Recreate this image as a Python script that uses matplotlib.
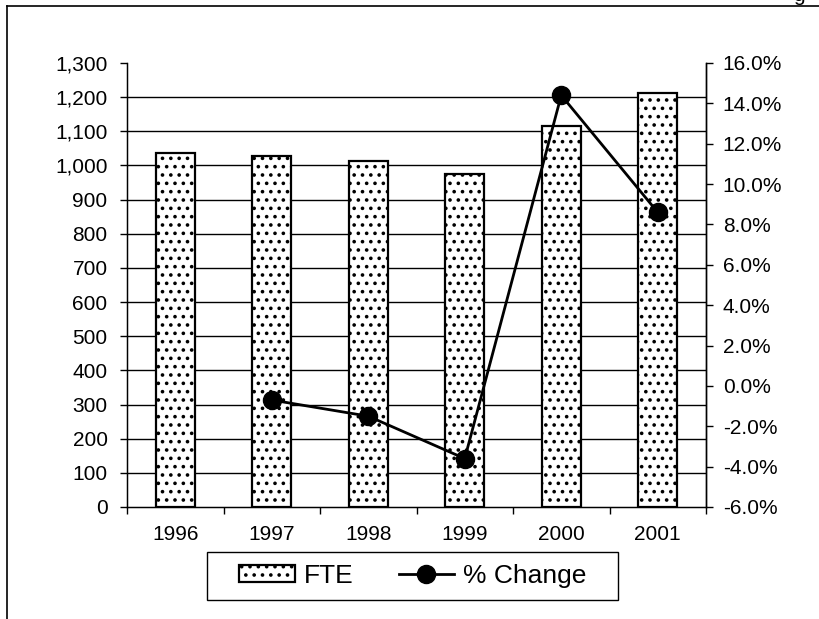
import matplotlib
matplotlib.use('Agg')
import matplotlib.pyplot as plt
from matplotlib.lines import Line2D
from matplotlib.patches import Rectangle
from matplotlib.ticker import FuncFormatter, MultipleLocator, FixedLocator
import numpy as np

plt.rcParams['font.family'] = ['Liberation Sans', 'DejaVu Sans']
plt.rcParams['hatch.linewidth'] = 1.4

years = ['1996', '1997', '1998', '1999', '2000', '2001']
fte = [1036, 1028, 1013, 976, 1117, 1213]
pct_years = ['1997', '1998', '1999', '2000', '2001']
pct_change = [-0.7, -1.5, -3.6, 14.4, 8.6]

W, H = 819, 619
fig = plt.figure(figsize=(W / 100, H / 100), dpi=100)

# outer chart frame (cut off on right/bottom)
fig.add_artist(Line2D([7 / W, 7 / W], [0, 1 - 6 / H], color='black', lw=1.2))
fig.add_artist(Line2D([7 / W, 1], [1 - 6 / H, 1 - 6 / H], color='black', lw=1.2))
fig.text(805 / W, 1 - 1 / H, 'g', fontsize=15, ha='right', va='baseline')

ax = fig.add_axes([127 / W, (H - 507) / H, (706 - 127) / W, (507 - 63) / H])
x = np.arange(len(years))
bars = ax.bar(x, fte, width=0.4, color='white', edgecolor='black',
              linewidth=1.6, hatch='..', zorder=2, label='FTE')

ax.set_xlim(-0.5, len(years) - 0.5)
ax.set_ylim(0, 1300)
ax.yaxis.set_major_locator(MultipleLocator(100))
ax.yaxis.set_major_formatter(FuncFormatter(lambda v, p: f'{int(v):,}'))
ax.set_xticks(x)
ax.set_xticklabels(years)
ax.xaxis.set_minor_locator(FixedLocator(np.arange(-0.5, len(years), 1.0)))
ax.tick_params(axis='x', which='major', length=0, pad=13, labelsize=15)
ax.tick_params(axis='x', which='minor', length=5, width=1, direction='out')
ax.tick_params(axis='y', length=5, width=1, direction='out', pad=9, labelsize=15)

for v in range(100, 1300, 100):
    ax.axhline(v, color='black', lw=1, zorder=1)
ax.set_axisbelow(True)

ax.spines['top'].set_visible(False)
for s in ['left', 'right', 'bottom']:
    ax.spines[s].set_linewidth(1)

ax2 = ax.twinx()
px = [years.index(y) for y in pct_years]
line, = ax2.plot(px, pct_change, color='black', lw=2, marker='o',
                 markersize=13, label='% Change', zorder=3)
ax2.set_ylim(-6, 16)
ax2.yaxis.set_major_locator(MultipleLocator(2))
ax2.yaxis.set_major_formatter(FuncFormatter(lambda v, p: f'{v:.1f}%'))
ax2.tick_params(axis='y', length=5, width=1, direction='out', pad=7, labelsize=15)
ax2.spines['top'].set_visible(False)
ax2.spines['right'].set_linewidth(1)

# legend box drawn separately (wider horizontal padding than vertical)
fig.add_artist(Rectangle((207 / W, 1 - 600 / H), (618 - 207) / W, 48 / H,
                         transform=fig.transFigure, facecolor='white',
                         edgecolor='black', linewidth=1))
handles = [Rectangle((0, 0), 1, 1, facecolor='white', edgecolor='black',
                     linewidth=1.6, hatch='..'), line]
leg = fig.legend(handles, ['FTE', '% Change'], loc='center',
                 bbox_to_anchor=(413 / W, 1 - 576 / H), ncol=2,
                 fontsize=19, frameon=False, handlelength=2.1, handleheight=0.6,
                 handletextpad=0.35, columnspacing=1.7, borderpad=0.2)

plt.savefig('out.png', dpi=100)
